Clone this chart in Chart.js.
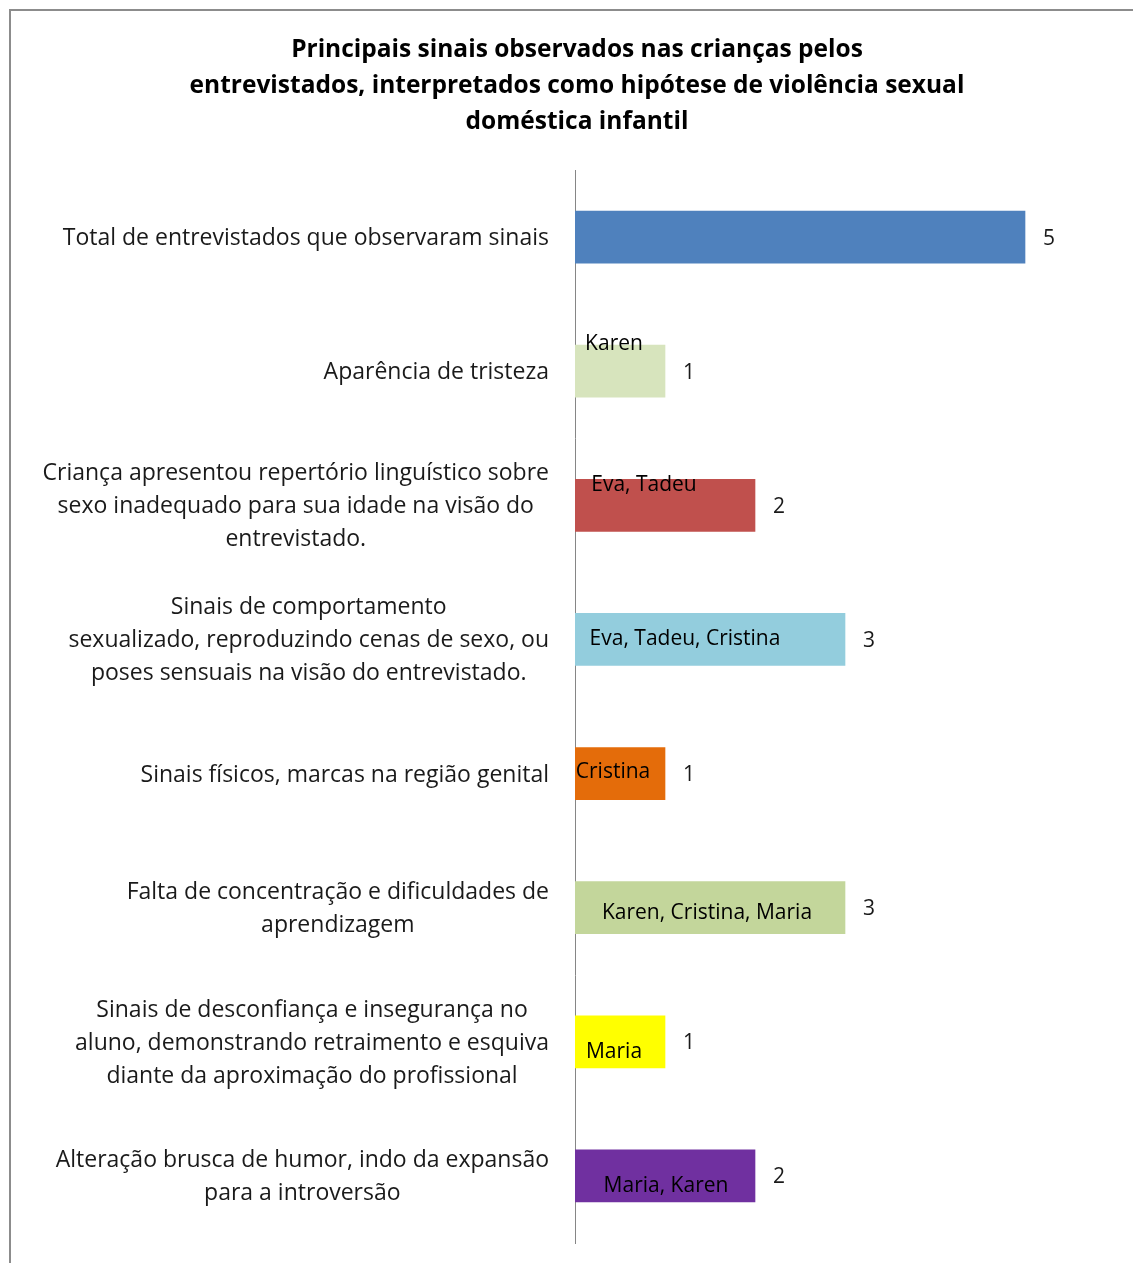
<!DOCTYPE html>
<html>
<head>
<meta charset="utf-8">
<script src="https://cdn.jsdelivr.net/npm/chart.js@4.4.1/dist/chart.umd.min.js"></script>
<style>
  html, body { margin: 0; padding: 0; background: #fff; }
  #frame { position: absolute; left: 9px; top: 9px; width: 1300px; height: 1400px;
           border-left: 2px solid #8c8c8c; border-top: 2px solid #8c8c8c; }
  #wrap { position: absolute; left: 0; top: 0; width: 1133px; height: 1263px; }
</style>
</head>
<body>
<div id="frame"></div>
<div id="wrap"><canvas id="chart" width="1133" height="1263"></canvas></div>
<script>
// chart data
var titleLines = [
  "Principais sinais observados nas crianças pelos",
  "entrevistados, interpretados como hipótese de violência sexual",
  "doméstica infantil"
];
var categories = [
  ["Total de entrevistados que observaram sinais"],
  ["Aparência de tristeza"],
  ["Criança apresentou repertório linguístico sobre", "sexo inadequado para sua idade na visão do", "entrevistado."],
  ["Sinais de comportamento", "sexualizado, reproduzindo cenas de sexo, ou", "poses sensuais na visão do entrevistado."],
  ["Sinais físicos, marcas na região genital"],
  ["Falta de concentração e dificuldades de", "aprendizagem"],
  ["Sinais de desconfiança e insegurança no", "aluno, demonstrando retraimento e esquiva", "diante da aproximação do profissional"],
  ["Alteração brusca de humor, indo da expansão", "para a introversão"]
];
var values = [5, 1, 2, 3, 1, 3, 1, 2];
var names = ["", "Karen", "Eva, Tadeu", "Eva, Tadeu, Cristina", "Cristina", "Karen, Cristina, Maria", "Maria", "Maria, Karen"];
var barColors = ["#4F81BD", "#D7E4BD", "#C0504D", "#93CDDD", "#E46C0A", "#C3D69B", "#FFFF00", "#7030A0"];

// small nudges of the name text inside each bar, as in the original
var nameShift = [[0, 0], [-6, -29], [-21, -22], [-25, -2], [-7, -3], [-3, 4], [-6, 9], [1, 9]];

var FONT = "'Open Sans', 'DejaVu Sans', sans-serif";

var labelPlugin = {
  id: "labelPlugin",
  afterDraw: function (chart) {
    var ctx = chart.ctx;
    var xs = chart.scales.x, ys = chart.scales.y;
    var bars = chart.getDatasetMeta(0).data;
    var right = chart.chartArea.left - 26;
    ctx.save();
    ctx.textBaseline = "middle";

    // category labels, lines centred in their block, block right-aligned
    ctx.font = "23px " + FONT;
    ctx.fillStyle = "#1a1a1a";
    ctx.textAlign = "center";
    categories.forEach(function (lines, i) {
      var w = 0;
      lines.forEach(function (l) { w = Math.max(w, ctx.measureText(l).width); });
      var cx = right - w / 2;
      var cy = ys.getPixelForTick(i) + 1.5;
      lines.forEach(function (l, j) {
        ctx.fillText(l, cx, cy + (j - (lines.length - 1) / 2) * 33);
      });
    });

    // value labels
    ctx.font = "21px " + FONT;
    ctx.textAlign = "left";
    values.forEach(function (v, i) {
      ctx.fillText(String(v), xs.getPixelForValue(v) + 18, ys.getPixelForTick(i) + 1.5);
    });

    // names inside bars
    ctx.font = "21px " + FONT;
    ctx.fillStyle = "#000";
    ctx.textAlign = "center";
    names.forEach(function (n, i) {
      if (!n) return;
      var b = bars[i];
      ctx.fillText(n, (b.x + b.base) / 2 + nameShift[i][0], b.y + nameShift[i][1] + 1.5);
    });
    ctx.restore();
  }
};

new Chart(document.getElementById("chart"), {
  type: "bar",
  data: {
    labels: categories,
    datasets: [{
      data: values,
      backgroundColor: barColors,
      borderWidth: 0,
      barThickness: 52
    }]
  },
  options: {
    indexAxis: "y",
    responsive: false,
    animation: false,
    layout: { padding: { left: 21, right: 0, top: 0, bottom: 20 } },
    plugins: {
      legend: { display: false },
      tooltip: { enabled: false },
      title: {
        display: true,
        text: titleLines,
        color: "#000",
        font: { family: FONT, size: 24.5, weight: "bold", lineHeight: "36px" },
        padding: { top: 32, bottom: 30 }
      }
    },
    scales: {
      x: { display: false, min: 0, max: 6.2 },
      y: {
        ticks: { display: false },
        grid: { display: false },
        border: { display: true, color: "#868686", width: 1 },
        afterFit: function (s) { s.width = 554; }
      }
    }
  },
  plugins: [labelPlugin]
});
</script>
</body>
</html>
